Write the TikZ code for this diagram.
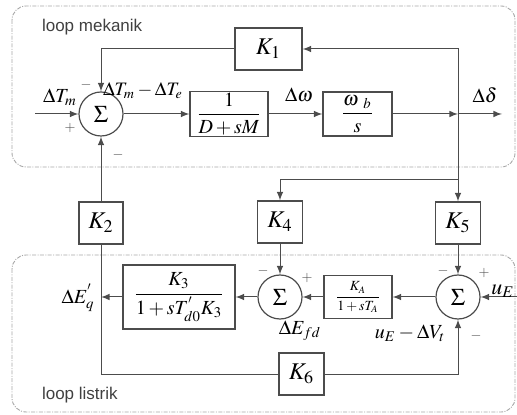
\documentclass[tikz,border=0pt]{standalone}
\usepackage{amsmath,amssymb}
\usepackage{mathptmx}
\usepackage{fontspec}
\setmainfont{Liberation Serif}
\newfontfamily\loopfont{Liberation Sans}
\definecolor{ln}{gray}{0.3}

\begin{document}
\begin{tikzpicture}[x=0.5pt, y=-0.5pt, >=latex, font=\fontsize{10}{12}\selectfont,
  line/.style={draw=ln, line width=0.5pt},
  blk/.style={draw=ln, line width=0.6pt, inner sep=0.5pt},
  gain/.style={blk, minimum width=22.5pt, minimum height=21pt, font=\fontsize{12}{14}\selectfont},
  sum/.style={draw=ln, line width=0.6pt, circle, minimum size=22pt, inner sep=0pt, font=\fontsize{12}{14}\selectfont},
  loopbox/.style={draw=gray!70, line width=0.45pt, dash pattern=on 2pt off 0.7pt on 0.5pt off 0.7pt, rounded corners=7pt},
  loopname/.style={font=\loopfont\fontsize{8.5}{10}\selectfont, text=black!75, anchor=west},
  sgn/.style={font=\fontsize{7}{8}\selectfont, text=black!70}]
\useasboundingbox (0,0) rectangle (517,415);
% dashed loop frames
\draw[loopbox] (12,6) rectangle (515,167);
\draw[loopbox] (12,255) rectangle (515,412);
\node[loopname] (lmek) at (35,27) {loop mekanik};
\node[loopname] (llis) at (35,395) {loop listrik};
% mechanical loop
\coordinate (in) at (35,114);
\node[sum] (sumA) at (101,114) {$\Sigma$};
\node[blk, minimum width=39pt, minimum height=21pt] (bD) at (229,114) {$\dfrac{1}{D+sM}$};
\node[blk, minimum width=34.5pt, minimum height=22pt] (bW) at (357.5,114) {$\dfrac{\omega_{\;\;b}}{s}$};
\node[gain, minimum width=33.5pt] (K1) at (268.5,49) {$K_1$};
\coordinate (br) at (458,114);
\coordinate (out) at (502,114);
\coordinate (sp) at (458,180);
% electrical loop
\node[gain, minimum width=22pt] (K2) at (101,223) {$K_2$};
\node[gain] (K4) at (280,222) {$K_4$};
\node[gain] (K5) at (458,223) {$K_5$};
\node[gain] (K6) at (301.5,374) {$K_6$};
\node[sum] (sumB) at (280,297) {$\Sigma$};
\node[sum] (sumC) at (458,297) {$\Sigma$};
\node[blk, minimum width=34pt, minimum height=21.5pt, font=\fontsize{7}{8}\selectfont] (bA) at (358,297) {$\dfrac{K_A}{1+sT_A}$};
\node[blk, minimum width=56pt, minimum height=32pt] (b3) at (179,297) {$\dfrac{K_3}{1+sT_{d0}^{'}K_3}$};
\coordinate (uE) at (517,297);
% connectors
\draw[line,->] (in) -- (sumA);
\draw[line,->] (sumA) -- (bD);
\draw[line,->] (bD) -- (bW);
\draw[line,->] (bW) -- (br);
\draw[line,->] (br) -- (out);
\draw[line,->] (br) |- (K1);
\draw[line,->] (K1) -| (sumA);
\draw[line,->] (K2) -- (sumA);
\draw[line,->] (br) -- (K5);
\draw[line,->] (sp) -| (K4);
\draw[line,->] (K4) -- (sumB);
\draw[line,->] (K5) -- (sumC);
\draw[line,->] (uE) -- (sumC);
\draw[line,->] (sumC) -- (bA);
\draw[line,->] (bA) -- (sumB);
\draw[line,->] (sumB) -- (b3);
\draw[line,->] (b3) -- (b3 -| K2);
\draw[line] (K2) |- (K6);
\draw[line,->] (K6) -| (sumC);
% signal labels
\node (lTm) at (60,97) {$\Delta T_m$};
\node[font=\fontsize{9.5}{11}\selectfont] (lTe) at (143,91) {$\Delta T_m-\Delta T_e$};
\node (lw) at (299,95) {$\Delta\omega$};
\node (ld) at (485,95) {$\Delta\delta$};
\node (lEq) at (78,298) {$\Delta E_q^{'}$};
\node (lEfd) at (300,331) {$\Delta E_{fd}$};
\node (lVt) at (410,333) {$u_E-\Delta V_t$};
\node[font=\fontsize{11}{13}\selectfont] (luE) at (503,291) {$u_E$};
% signs
\node[sgn] (sA1) at (70,128) {$+$};
\node[sgn] (sA2) at (86,85) {$-$};
\node[sgn] (sA3) at (118,155) {$-$};
\node[sgn] (sB1) at (263,271) {$-$};
\node[sgn] (sB2) at (307,278) {$+$};
\node[sgn] (sC1) at (443,271) {$-$};
\node[sgn] (sC2) at (484,273) {$+$};
\node[sgn] (sC3) at (476,336) {$-$};
\end{tikzpicture}
\end{document}
